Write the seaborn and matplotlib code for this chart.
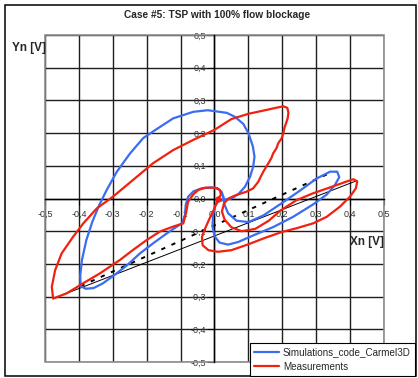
import numpy as np
import pandas as pd
import matplotlib
matplotlib.use("Agg")
import matplotlib.pyplot as plt
import matplotlib.patches as mpatches
from matplotlib.ticker import FixedLocator, FuncFormatter
import seaborn as sns

# ---- data (Xn, Yn in volts) ----
blue_x = [0.026, 0.021, 0.008, -0.010, -0.038, -0.062, -0.078, -0.085, -0.087, -0.095,
          -0.120, -0.145, -0.181, -0.220, -0.259, -0.299, -0.330, -0.357, -0.380, -0.395,
          -0.396, -0.391, -0.378, -0.360, -0.340, -0.318, -0.288, -0.249, -0.210, -0.171,
          -0.122, -0.063, -0.020, 0.036, 0.060, 0.085, 0.100, 0.113, 0.118, 0.114,
          0.105, 0.090, 0.070, 0.050, 0.030, 0.012, 0.002, -0.004, -0.006, 0.000,
          0.015, 0.040, 0.070, 0.114, 0.174, 0.232, 0.291, 0.331, 0.355, 0.368,
          0.362, 0.341, 0.301, 0.252, 0.193, 0.144, 0.100, 0.065, 0.040, 0.030, 0.026]
blue_y = [0.005, 0.021, 0.032, 0.034, 0.031, 0.022, 0.005, -0.020, -0.050, -0.075,
          -0.092, -0.110, -0.137, -0.168, -0.205, -0.237, -0.260, -0.274, -0.276, -0.268,
          -0.235, -0.188, -0.127, -0.070, -0.020, 0.026, 0.082, 0.138, 0.185, 0.212,
          0.245, 0.265, 0.270, 0.262, 0.250, 0.228, 0.200, 0.160, 0.128, 0.097,
          0.067, 0.036, 0.013, 0.000, -0.004, -0.008, -0.022, -0.050, -0.085, -0.115,
          -0.135, -0.141, -0.133, -0.113, -0.087, -0.056, -0.018, 0.012, 0.041, 0.065,
          0.082, 0.082, 0.061, 0.024, -0.018, -0.052, -0.072, -0.068, -0.045, -0.020, 0.005]

red_x = [0.011, 0.000, -0.014, -0.027, -0.037, -0.035, -0.018, 0.010, 0.050, 0.100,
         0.150, 0.200, 0.242, 0.291, 0.331, 0.370, 0.400, 0.417, 0.421, 0.410,
         0.390, 0.341, 0.291, 0.242, 0.193, 0.160, 0.120, 0.080, 0.050, 0.030,
         0.022, 0.028, 0.041, 0.065, 0.095, 0.114, 0.129, 0.137, 0.144, 0.152,
         0.159, 0.168, 0.173, 0.183, 0.188, 0.198, 0.203, 0.206, 0.211, 0.216,
         0.218, 0.215, 0.203, 0.180, 0.154, 0.100, 0.050, 0.000, -0.063, -0.122,
         -0.181, -0.240, -0.299, -0.347, -0.387, -0.417, -0.451, -0.470, -0.480, -0.476,
         -0.436, -0.387, -0.338, -0.279, -0.240, -0.200, -0.161, -0.122, -0.092, -0.084,
         -0.078, -0.063, -0.048, -0.028, 0.001, 0.016, 0.019, 0.011]
red_y = [0.000, -0.030, -0.060, -0.090, -0.118, -0.143, -0.158, -0.163, -0.158, -0.140,
         -0.120, -0.102, -0.091, -0.076, -0.056, -0.025, 0.006, 0.031, 0.052, 0.059,
         0.052, 0.034, 0.016, -0.005, -0.038, -0.068, -0.093, -0.100, -0.088, -0.065,
         -0.040, -0.015, 0.000, 0.011, 0.021, 0.031, 0.051, 0.068, 0.082, 0.096,
         0.108, 0.124, 0.138, 0.154, 0.169, 0.184, 0.199, 0.215, 0.230, 0.246,
         0.262, 0.277, 0.282, 0.277, 0.271, 0.259, 0.243, 0.210, 0.179, 0.148,
         0.108, 0.057, 0.006, -0.030, -0.076, -0.117, -0.168, -0.219, -0.270, -0.306,
         -0.290, -0.259, -0.229, -0.188, -0.157, -0.127, -0.101, -0.086, -0.076, -0.045,
         -0.010, 0.012, 0.026, 0.033, 0.033, 0.026, 0.011, 0.000]

# straight reference lines between loop extremes
solid_x = [-0.476, 0.421]
solid_y = [-0.306, 0.055]
dashed_x = [-0.395, 0.345]
dashed_y = [-0.268, 0.080]

ticks = [-0.5, -0.4, -0.3, -0.2, -0.1, 0.0, 0.1, 0.2, 0.3, 0.4, 0.5]
series_names = ["Simulations_code_Carmel3D", "Measurements"]
blue = "#3b6cf2"
red = "#f2200f"

sns.set_theme(style="white")
plt.rcParams["font.family"] = ["Liberation Sans", "DejaVu Sans"]

W, H = 418, 378
fig = plt.figure(figsize=(W / 100, H / 100), dpi=100)
ax = fig.add_axes([45 / W, (H - 362) / H, 339 / W, 327 / H])

sim = pd.DataFrame({"x": blue_x, "y": blue_y})
meas = pd.DataFrame({"x": red_x, "y": red_y})

ax.plot(solid_x, solid_y, color="black", lw=0.7, zorder=3)
ax.plot(dashed_x, dashed_y, color="black", lw=1.4, ls=(0, (2.2, 3.5)), zorder=3)
sns.lineplot(data=sim, x="x", y="y", sort=False, estimator=None, color=blue,
             lw=1.6, ax=ax, zorder=4)
sns.lineplot(data=meas, x="x", y="y", sort=False, estimator=None, color=red,
             lw=1.6, ax=ax, zorder=5)
ax.plot([red_x[0]], [red_y[0]], "o", color=red, ms=3.5, zorder=6)

ax.set_xlim(-0.5, 0.5)
ax.set_ylim(-0.5, 0.5)
ax.xaxis.set_major_locator(FixedLocator(ticks))
ax.yaxis.set_major_locator(FixedLocator(ticks))
fmt = FuncFormatter(lambda v, p: f"{v:.1f}".replace(".", ",").replace("-0,0", "0,0"))
ax.xaxis.set_major_formatter(fmt)
ax.yaxis.set_major_formatter(fmt)
ax.set_xlabel("")
ax.set_ylabel("")

ax.grid(True, color="#1e1e1e", lw=1.0)
ax.set_axisbelow(True)
for s in ["top", "right"]:
    ax.spines[s].set_visible(False)
ax.spines["left"].set_position(("data", 0))
ax.spines["bottom"].set_position(("data", 0))
for s in ["left", "bottom"]:
    ax.spines[s].set_color("black")
    ax.spines[s].set_linewidth(1.0)
# grey frame around the plotting area
ax.add_patch(mpatches.Rectangle((0, 0), 1, 1, transform=ax.transAxes, fill=False,
                                edgecolor="#8c8c8c", lw=1.2, clip_on=False, zorder=2))

ax.tick_params(axis="y", direction="out", length=5, width=0.8, pad=1,
               labelsize=6.5, labelcolor="#333333", color="black", left=True)
ax.tick_params(axis="x", direction="out", length=4, width=0.8, pad=4,
               labelsize=6.5, labelcolor="#333333", color="black", bottom=True)

fig.text(217 / W, 1 - 15 / H, "Case #5: TSP with 100% flow blockage",
         ha="center", va="center", fontsize=7.3, fontweight="bold")
fig.text(12 / W, 1 - 48 / H, "Yn [V]", ha="left", va="center",
         fontsize=8.5, fontweight="bold")
fig.text(367 / W, 1 - 242 / H, "Xn [V]", ha="center", va="center",
         fontsize=8.5, fontweight="bold")

handles = [plt.Line2D([], [], color=blue, lw=1.6),
           plt.Line2D([], [], color=red, lw=1.6)]
leg = fig.legend(handles, series_names, loc="lower left",
                 bbox_to_anchor=(250 / W, 2 / H), fontsize=7.1, frameon=True,
                 fancybox=False, edgecolor="black", framealpha=1,
                 handlelength=2.5, handletextpad=0.4, labelspacing=0.45,
                 borderpad=0.45, borderaxespad=0)
leg.get_frame().set_linewidth(0.8)
leg.set_zorder(10)

# outer chart border
fig.patches.append(mpatches.Rectangle((5 / W, 2 / H), 411 / W, 371 / H,
                                      transform=fig.transFigure, fill=False,
                                      edgecolor="black", lw=1.1, zorder=0))

fig.savefig("out.png", dpi=100)
